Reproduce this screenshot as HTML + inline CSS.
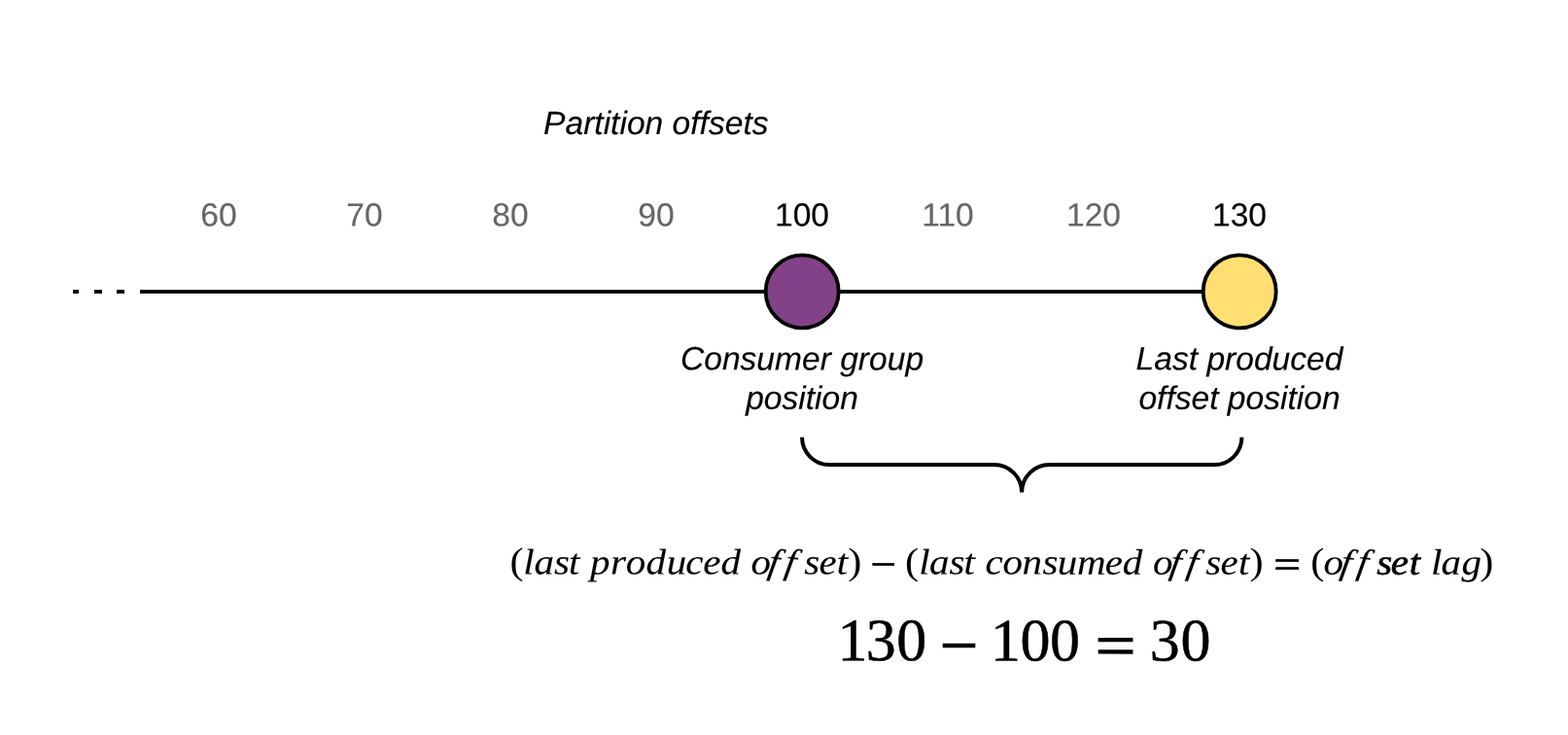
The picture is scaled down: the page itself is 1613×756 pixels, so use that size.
<!DOCTYPE html>
<html lang="en">
<head>
<meta charset="utf-8">
<title>Partition offsets – consumer group offset lag</title>
<style>
html,body{margin:0;padding:0;background:#fff;}
body{width:1613px;height:756px;overflow:hidden;}
svg{display:block;will-change:transform;text-rendering:geometricPrecision;}
.sans{font-family:"Liberation Sans",sans-serif;font-size:33.6px;text-anchor:middle;stroke-width:0.15px;}
.sans.g{stroke:#666666;}
.sans.k{stroke:#000;}
.it{font-style:italic;}
.g{fill:#666666;}
.k{fill:#000;}
.serif{font-family:"Liberation Serif",serif;}
.mi{font-style:italic;stroke:#000;stroke-width:0.1px;stroke-linejoin:round;}
.mr{font-style:normal;stroke:#000;stroke-width:0.5px;}
.mo{font-style:normal;stroke:none;}
.op{font-style:normal;stroke:#000;}
.mb{stroke-width:0.6px;}
</style>
</head>
<body>
<svg width="1613" height="756" viewBox="0 0 1613 756">
<rect x="0" y="0" width="1613" height="756" fill="#fff"/>
<!-- title -->
<text class="sans it k" transform="matrix(1 0.0005 0 1 674.8 138)">Partition offsets</text>
<!-- tick labels -->
<text class="sans g" transform="matrix(1 0.0005 0 1 225 232.55)">60</text>
<text class="sans g" transform="matrix(1 0.0005 0 1 375 232.55)">70</text>
<text class="sans g" transform="matrix(1 0.0005 0 1 525 232.55)">80</text>
<text class="sans g" transform="matrix(1 0.0005 0 1 675 232.55)">90</text>
<text class="sans k" transform="matrix(1 0.0005 0 1 825 232.55)">100</text>
<text class="sans g" transform="matrix(1 0.0005 0 1 975 232.55)">110</text>
<text class="sans g" transform="matrix(1 0.0005 0 1 1125 232.55)">120</text>
<text class="sans k" transform="matrix(1 0.0005 0 1 1275 232.55)">130</text>
<!-- axis -->
<g fill="#000">
<rect x="75" y="298.05" width="6" height="3.85"/>
<rect x="97" y="298.05" width="8" height="3.85"/>
<rect x="120" y="298.05" width="8" height="3.85"/>
<rect x="144" y="298.05" width="1131" height="3.85"/>
</g>
<circle cx="825.2" cy="299.95" r="37.5" fill="#834187" stroke="#000" stroke-width="3.8"/>
<circle cx="1275.2" cy="299.95" r="37.5" fill="#ffdf71" stroke="#000" stroke-width="3.8"/>
<!-- labels -->
<text class="sans it k" transform="matrix(1 0.0005 0 1 825 380.4)">Consumer group</text>
<text class="sans it k" transform="matrix(1 0.0005 0 1 825 420.8)">position</text>
<text class="sans it k" transform="matrix(1 0.0005 0 1 1275 380.4)">Last produced</text>
<text class="sans it k" transform="matrix(1 0.0005 0 1 1275 420.8)">offset position</text>
<!-- brace -->
<path d="M825.05 449.8 A28.3 28.3 0 0 0 853.35 478.1 L1022.8 478.1 A28.3 28.4 0 0 1 1051.1 506.5 A28.3 28.4 0 0 1 1079.4 478.1 L1249.1 478.1 A28.3 28.3 0 0 0 1277.4 449.8" fill="none" stroke="#000" stroke-width="4" stroke-linecap="butt"/>
<!-- formula -->
<text class="serif k mi" font-size="37.3" transform="matrix(1.1 0.0005 0 1 524.53 590.37)" x="0 12.48 22.61 41.28 55.03 65.39 74.99 94.04 108.46 127.31 146.62 164.4 180.68 197.26 215.91 225.46 240.41 255.94 275.28 288.99 305.6 316.11 328.97 337.31 361.31 369.57 382.43 392.25 410.87 424.6 434.96 444.41 460.96 479.03 498.05 512.12 530.43 556.49 572.9 591.55 601.26 616.12 631.73 650.76 664.63 681.42 691.88 704.74 714.36 739.63 748.91 760.92 775.74 791.12 810.6 823.81 841.05 851.41 861.34 870.97 890.09 907" y="-0.4 0 0 0 0 0 0 0 0 0 0 0 0 0 0 0 -1.2 -1.2 0 0 0 -0.4 0 3.2 0 -0.4 0 0 0 0 0 0 0 0 0 0 0 0 0 0 0 -1.2 -1.2 0 0 0 -0.4 0 3.2 0 -0.4 0 -1.2 -1.2 0 0 0 0 0 0 0 -0.4" rotate="0 0 0 0 0 0 0 0 0 0 0 0 0 0 0 0 8 8 0 0 0 0 0 0 0 0 0 0 0 0 0 0 0 0 0 0 0 0 0 0 0 8 8 0 0 0 0 0 0 0 0 0 8 8 0 0 0 0 0 0 0 0"><tspan class="mo" font-size="38.6">(</tspan>last produced offset<tspan class="mo" font-size="38.6">)</tspan> <tspan class="op" font-size="40.25" stroke-width="0.8" textLength="24" lengthAdjust="spacingAndGlyphs">−</tspan> <tspan class="mo" font-size="38.6">(</tspan>last consumed offset<tspan class="mo" font-size="38.6">)</tspan> <tspan class="op" font-size="40.25" stroke-width="0.8" textLength="25.28" lengthAdjust="spacingAndGlyphs">=</tspan> <tspan class="mo" font-size="38.6">(</tspan>off<tspan class="mb">set</tspan> lag<tspan class="mo" font-size="38.6">)</tspan></text>
<!-- result -->
<text class="serif k mr" font-size="62" transform="matrix(1 0.0005 0 1 861.51 679.31)" x="0 29.34 60.86 91.86 105.55 144.56 157.53 188.04 218.54 249.54 265.28 306.82 321.27 352.99" y="0 0 0 0 5.2 0 0 0 0 0 5.35 0 0 0">130 <tspan class="op" font-size="61.75" stroke-width="1.3" textLength="39" lengthAdjust="spacingAndGlyphs">−</tspan> 100 <tspan class="op" font-size="61.75" stroke-width="1.3" textLength="41.55" lengthAdjust="spacingAndGlyphs">=</tspan> 30</text>
</svg>
</body>
</html>
